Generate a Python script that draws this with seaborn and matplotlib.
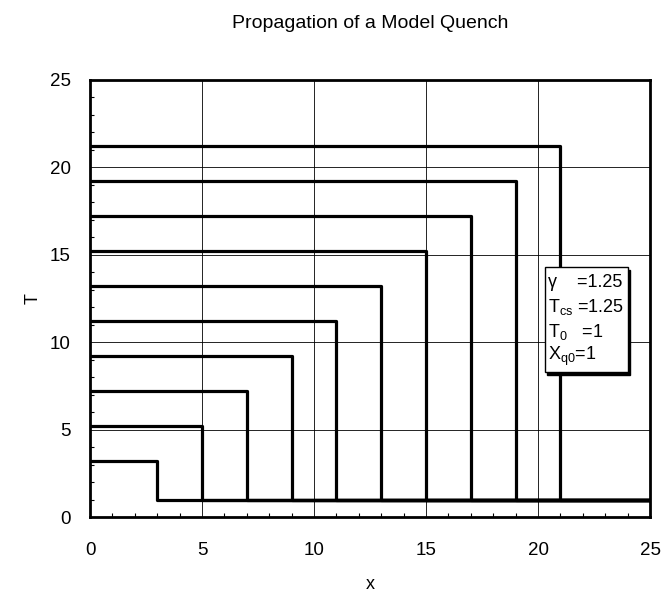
import matplotlib
matplotlib.use("Agg")
import matplotlib.pyplot as plt
import seaborn as sns
import pandas as pd
from matplotlib.patches import Rectangle
from matplotlib.ticker import MultipleLocator

# data
quench_x = [3, 5, 7, 9, 11, 13, 15, 17, 19, 21]
plateau_T = [3.2, 5.2, 7.2, 9.2, 11.2, 13.2, 15.2, 17.2, 19.2, 21.2]
T_base = 1.0
x_max = 25
x_ticks = [0, 5, 10, 15, 20, 25]
y_ticks = [0, 5, 10, 15, 20, 25]
param_lines = ["γ    =1.25", "T$_{\\rm cs}$ =1.25", "T$_{\\rm 0}$   =1", "X$_{\\rm q0}$=1"]

sns.set_theme(style="white")
plt.rcParams['font.family'] = ['Liberation Sans', 'DejaVu Sans']
plt.rcParams['mathtext.fontset'] = 'custom'
plt.rcParams['mathtext.rm'] = 'Liberation Sans'

rows = []
for i, (xq, lv) in enumerate(zip(quench_x, plateau_T)):
    for order, (xx, yy) in enumerate([(0, lv), (xq, lv), (xq, T_base), (x_max, T_base)]):
        rows.append({"curve": i, "order": order, "x": xx, "T": yy})
df = pd.DataFrame(rows)

fig = plt.figure(figsize=(6.66, 5.98), dpi=100)
ax = fig.add_axes([90/666, 81/598, 560/666, 437/598])

sns.lineplot(data=df, x="x", y="T", units="curve", estimator=None, sort=False,
             color="black", linewidth=2.3, ax=ax, legend=False, zorder=3)

ax.set_xlim(0, 25)
ax.set_ylim(0, 25)
ax.set_xticks(x_ticks)
ax.set_yticks(y_ticks)
ax.xaxis.set_minor_locator(MultipleLocator(1))
ax.yaxis.set_minor_locator(MultipleLocator(1))
ax.grid(True, which="major", color="black", linewidth=0.6)
ax.tick_params(which="major", length=0, labelsize=13.5, colors="black")
ax.tick_params(axis="x", which="major", pad=18)
ax.tick_params(axis="y", which="major", pad=14)
ax.tick_params(which="minor", direction="in", length=3, width=0.8, colors="black",
               bottom=True, left=True)
for s in ax.spines.values():
    s.set_visible(True)
    s.set_color("black")
    s.set_linewidth(2.0)

ax.set_xlabel("x", fontsize=13, labelpad=12, color="black")
ax.set_ylabel("T", fontsize=13, labelpad=6, color="black", rotation=90)
fig.text(370/666, 1 - 24/598, "Propagation of a Model Quench", ha="center", va="center",
         fontsize=14, color="black")

# parameter box with shadow
bx0, bx1, by0, by1 = 20.3, 24.0, 8.3, 14.3
ax.add_patch(Rectangle((bx0 + 0.12, by0 - 0.15), bx1 - bx0, by1 - by0,
                       facecolor="black", edgecolor="black", zorder=4))
ax.add_patch(Rectangle((bx0, by0), bx1 - bx0, by1 - by0,
                       facecolor="white", edgecolor="black", linewidth=1.0, zorder=5))
ty = [13.4, 12.0, 10.6, 9.2]
for s, yy in zip(param_lines, ty):
    ax.text(bx0 + 0.15, yy, s, fontsize=13, color="black", va="center", ha="left", zorder=6)

fig.savefig("out.png", dpi=100)
